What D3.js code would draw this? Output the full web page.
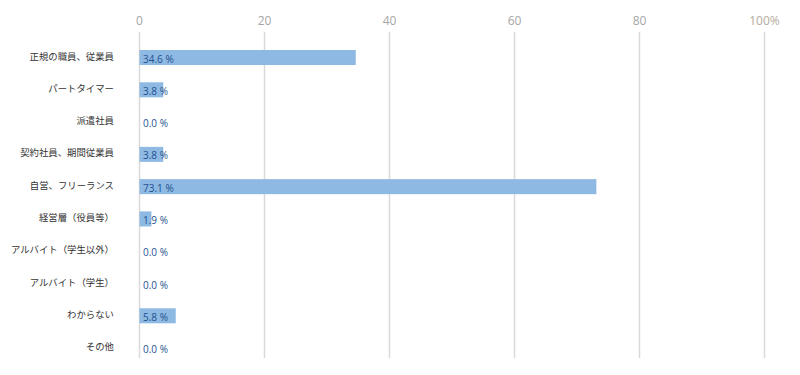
<!DOCTYPE html>
<html><head><meta charset="utf-8">
<script src="https://cdn.jsdelivr.net/npm/d3@7"></script>
<style>body{margin:0;background:#fff;}</style>
</head><body>
<svg id="c" width="800" height="375"></svg>
<script>
const categories = ["正規の職員、従業員","パートタイマー","派遣社員","契約社員、期間従業員","自営、フリーランス","経営層（役員等）","アルバイト（学生以外）","アルバイト（学生）","わからない","その他"];
const values = [34.6, 3.8, 0.0, 3.8, 73.1, 1.9, 0.0, 0.0, 5.8, 0.0];
const tickValues = [0, 20, 40, 60, 80, 100];
const tickLabels = ["0","20","40","60","80","100%"];

const svg = d3.select("#c");
const x = d3.scaleLinear().domain([0, 100]).range([139.5, 764.5]);
const y = d3.scaleBand().domain(categories).range([41.3, 364.3]).paddingInner(0.535).paddingOuter(0.27);

const font = "'Noto Sans CJK JP', 'Noto Sans', sans-serif";

// gridlines
svg.append("g").selectAll("line").data(tickValues).join("line")
  .attr("x1", d => x(d)).attr("x2", d => x(d))
  .attr("y1", 32).attr("y2", 358)
  .attr("stroke", "#d9d9d9").attr("stroke-width", 1.5);

// tick labels
svg.append("g").selectAll("text").data(tickValues).join("text")
  .attr("x", d => x(d)).attr("y", 25)
  .attr("text-anchor", "middle")
  .attr("font-family", "'Open Sans', 'Noto Sans', sans-serif")
  .attr("font-size", 12)
  .attr("fill", (d,i) => i === tickValues.length - 1 ? "#b5ab9e" : "#a6a6a6")
  .text((d, i) => tickLabels[i]);

// bars
svg.append("g").selectAll("rect").data(values).join("rect")
  .attr("x", x(0))
  .attr("y", (d, i) => y(categories[i]))
  .attr("width", d => x(d) - x(0))
  .attr("height", y.bandwidth())
  .attr("fill", "#8db9e3");

// category labels
svg.append("g").selectAll("text").data(categories).join("text")
  .attr("x", 114)
  .attr("y", d => y(d) + y.bandwidth() / 2 - 2)
  .attr("dominant-baseline", "central")
  .attr("text-anchor", "end")
  .attr("font-family", font)
  .attr("font-size", 9.4)
  .attr("fill", "#333333")
  .text(d => d);

// value labels
svg.append("g").selectAll("text").data(values).join("text")
  .attr("x", x(0) + 3.5)
  .attr("y", (d, i) => y(categories[i]) + y.bandwidth() / 2 + 1)
  .attr("dominant-baseline", "central")
  .attr("font-family", "'Open Sans', 'Noto Sans', sans-serif")
  .attr("font-size", 10)
  .attr("fill", "#24528f")
  .text(d => d.toFixed(1) + " %");
</script>
</body></html>
